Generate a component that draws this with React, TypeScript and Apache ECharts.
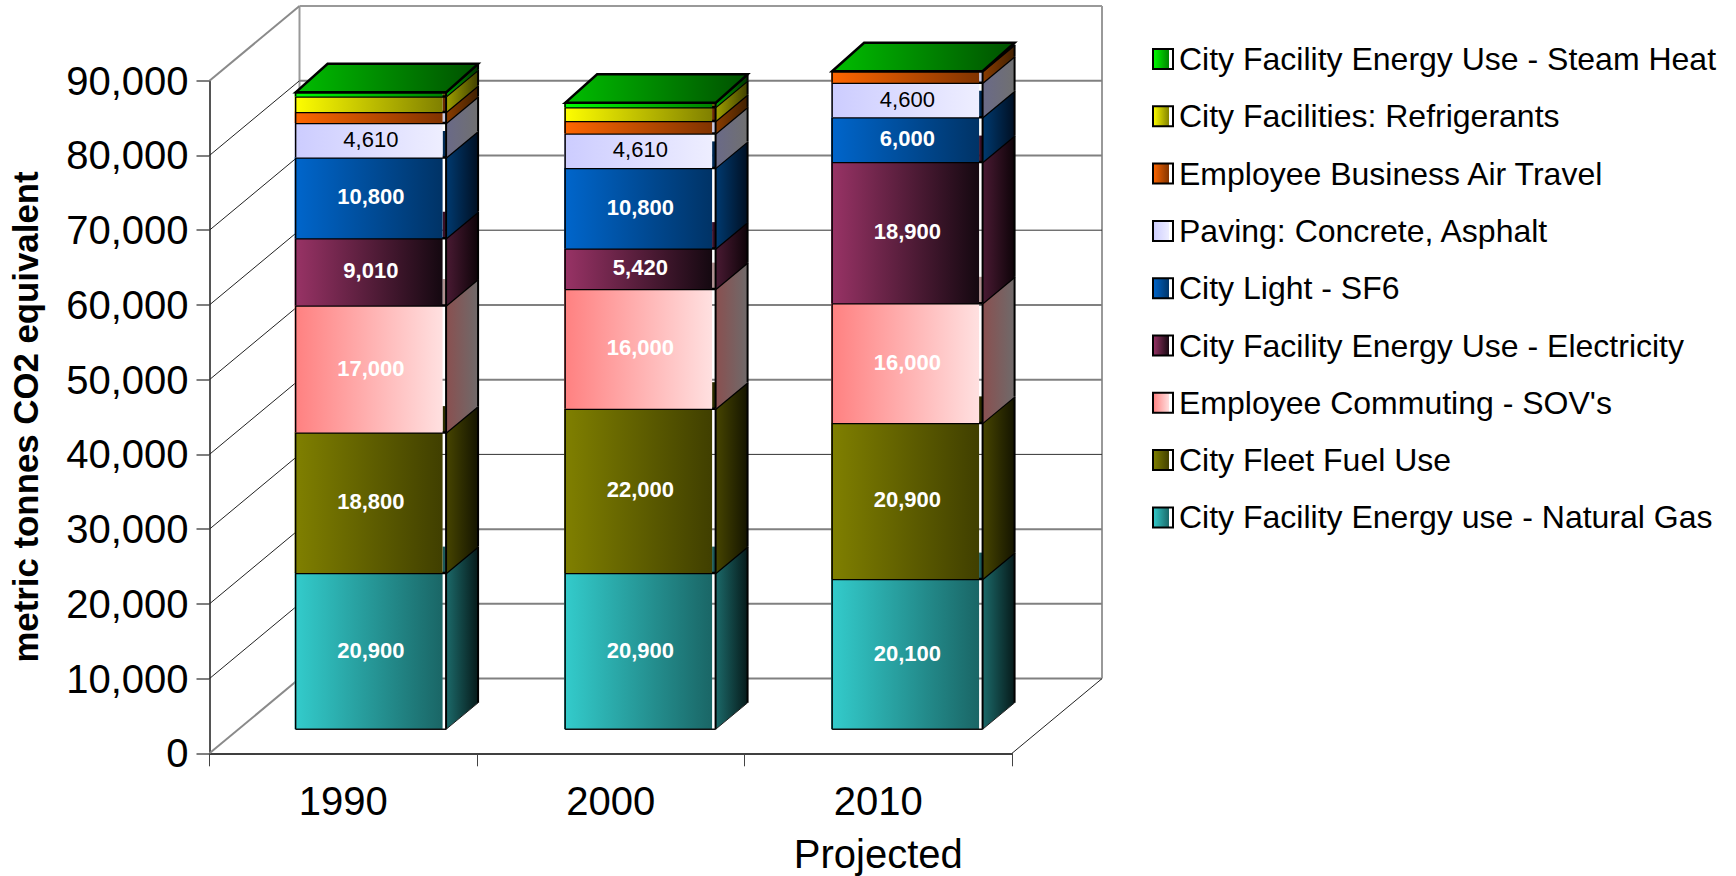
import React, { useEffect, useRef } from "react";
import * as echarts from "echarts";

const categories = ["1990", "2000", "2010\nProjected"];
const seriesNames = [
  "City Facility Energy use - Natural Gas",
  "City Fleet Fuel Use",
  "Employee Commuting - SOV's",
  "City Facility Energy Use - Electricity",
  "City Light - SF6",
  "Paving: Concrete, Asphalt",
  "Employee Business Air Travel",
  "City Facilities: Refrigerants",
  "City Facility Energy Use - Steam Heat",
];
const naturalGas = [20900, 20900, 20100];
const fleetFuel = [18800, 22000, 20900];
const commuting = [17000, 16000, 16000];
const electricity = [9010, 5420, 18900];
const lightSF6 = [10800, 10800, 6000];
const paving = [4610, 4610, 4600];
const airTravel = [1470, 1650, 1560];
const refrigerants = [2100, 1870, 0];
const steamHeat = [540, 580, 0];
const allValues = [naturalGas, fleetFuel, commuting, electricity, lightSF6, paving, airTravel, refrigerants, steamHeat];
const tickValues = [0, 10000, 20000, 30000, 40000, 50000, 60000, 70000, 80000, 90000];
const darkBackLines = [60000, 30000];

const frontStart = ["#33CCCC", "#808000", "#FF8080", "#993366", "#0066CC", "#CCCCFF", "#FF6600", "#FFFF00", "#00FF00"];
const frontEnd = ["#1A6666", "#403F00", "#FFE0E0", "#140810", "#003366", "#EEEEFF", "#803300", "#808000", "#008000"];
const sideStart = ["#1C6A6A", "#474500", "#8A5050", "#4A1A33", "#003A70", "#6A6A88", "#8A3C00", "#A0A000", "#00A000"];
const sideEnd = ["#061A1A", "#141400", "#6F6A6A", "#0D0308", "#000F22", "#707070", "#402000", "#404000", "#003300"];
const stripeTint = ["#1C5A5A", "#2E2E00", "#B09090", "#3A1028", "#002A55", "#C8C8E0", "#6A2A00", "#606000", "#007000"];
const labelDark = [false, false, false, false, false, true];

const FONT = '"Liberation Sans", Arial, sans-serif';
const DEPTH_X = 90;
const DEPTH_Y = 74.7;
const FRONT_DX = 27.6;
const FRONT_DY = 24;
const SIDE_DX = 32;
const SIDE_DY = 26.5;
const TOP_DY = 28.5;
const BAR_RATIO = 0.5625;
const BAR_NUDGE = [0, 2, 1.5];

const hGrad = (a: string, b: string) =>
  new echarts.graphic.LinearGradient(0, 0, 1, 0, [
    { offset: 0, color: a },
    { offset: 1, color: b },
  ]);

const stackUnder = (s: number, c: number) => {
  let sum = 0;
  for (let i = 0; i < s; i++) sum += allValues[i][c];
  return sum;
};
const stackTotal = (c: number) => stackUnder(allValues.length, c);

const line = (x1: number, y1: number, x2: number, y2: number, stroke: string, lineWidth: number) => ({
  type: "line",
  shape: { x1, y1, x2, y2 },
  style: { stroke, lineWidth, fill: null },
});

const renderWall = (params: any, api: any) => {
  const v = api.value(1);
  const cs = params.coordSys;
  const x0 = cs.x;
  const x1 = cs.x + cs.width;
  const y = api.coord([0, v])[1];
  const bx0 = x0 + DEPTH_X;
  const bx1 = x1 + DEPTH_X;
  const by = y - DEPTH_Y;
  const edge = v === 0 || v === tickValues[tickValues.length - 1];
  const backColor = darkBackLines.includes(v) ? "#333" : v === 90000 ? "#999" : "#808080";
  const children: any[] = [
    line(x0, y, bx0, by, edge ? "#8a8a8a" : "#222", edge ? 2 : 1),
    line(bx0, by, bx1, by, backColor, darkBackLines.includes(v) ? 1 : 2),
  ];
  if (v === 0) {
    const top = api.coord([0, 90000])[1] - DEPTH_Y;
    children.push(line(bx0, by, bx0, top, "#999", 2));
    children.push(line(bx1, by, bx1, top, "#999", 2));
    children.push(line(x1, y, bx1, by, "#222", 1));
  }
  return { type: "group", children };
};

const makeBarRender = (s: number) => (_params: any, api: any) => {
  const c = api.value(0);
  const value = api.value(1);
  const base = stackUnder(s, c);
  const band = api.size([1, 0])[0];
  const cx = api.coord([c, base])[0] + FRONT_DX + BAR_NUDGE[c];
  const half = (band * BAR_RATIO) / 2;
  const left = cx - half;
  const right = cx + half;
  const y0 = api.coord([c, base])[1] - FRONT_DY;
  const y1 = api.coord([c, base + value])[1] - FRONT_DY;
  const barTop = api.coord([c, stackTotal(c)])[1] - FRONT_DY;
  const isLast = s === allValues.length - 1;
  const sideTopDy = isLast ? TOP_DY : SIDE_DY;
  const children: any[] = [];
  if (value > 0) {
    children.push({
      type: "polygon",
      shape: { points: [[right, y0], [right + SIDE_DX, y0 - SIDE_DY], [right + SIDE_DX, y1 - sideTopDy], [right, y1]] },
      style: { fill: hGrad(sideStart[s], sideEnd[s]) },
    });
    children.push({
      type: "rect",
      shape: { x: left - 1, y: y1 - 0.5, width: right - left - 2.5, height: y0 - y1 + 0.5 },
      style: { fill: hGrad(frontStart[s], frontEnd[s]) },
    });
    const overlayTop = Math.max(y1 - SIDE_DY, barTop);
    if (overlayTop < y1) {
      children.push({
        type: "rect",
        shape: { x: right - 3.5, y: overlayTop, width: 3, height: y1 - overlayTop },
        style: { fill: stripeTint[s] },
      });
    }
    children.push(line(left, y0, left, y1, "#000", 1.5));
    children.push(line(right, y0, right, y1, "#000", 2));
    children.push(line(right + SIDE_DX, y0 - SIDE_DY, right + SIDE_DX, y1 - sideTopDy, "#000", 2));
    children.push(line(left, y1, right, y1, "#000", 2.5));
    children.push(line(right, y1, right + SIDE_DX, y1 - sideTopDy, "#000", 2.5));
    if (s === 0) {
      children.push(line(left, y0, right, y0, "#111", 1.5));
      children.push(line(right, y0, right + SIDE_DX, y0 - SIDE_DY, "#222", 1));
    }
    if (s < labelDark.length) {
      children.push({
        type: "text",
        x: (left + right) / 2,
        y: (y0 + y1) / 2 - 1,
        style: {
          text: value.toLocaleString("en-US"),
          fill: labelDark[s] ? "#000" : "#fff",
          fontFamily: FONT,
          fontSize: 22,
          fontWeight: labelDark[s] ? "normal" : "bold",
          align: "center",
          verticalAlign: "middle",
        },
      });
    }
  }
  if (isLast) {
    children.push({
      type: "polygon",
      shape: { points: [[left, barTop], [left + SIDE_DX, barTop - TOP_DY], [right + SIDE_DX, barTop - TOP_DY], [right, barTop]] },
      style: { fill: hGrad("#00BE00", "#005000"), stroke: "#000", lineWidth: 2.5 },
    });
  }
  return { type: "group", children };
};

export default function App() {
  const ref = useRef<HTMLDivElement>(null);
  useEffect(() => {
    const chart = echarts.init(ref.current!, null, { renderer: "svg" });
    chart.setOption({
      animation: false,
      backgroundColor: "#fff",
      grid: { left: 209.5, right: 724, top: 80.7, bottom: 122.7, containLabel: false, outerBoundsMode: "none" },
      xAxis: {
        type: "category",
        data: categories,
        axisLine: { lineStyle: { color: "#000", width: 1.5 } },
        axisTick: { show: true, length: 13, lineStyle: { color: "#444", width: 1 } },
        axisLabel: { color: "#000", fontSize: 40, fontFamily: FONT, margin: 21, lineHeight: 53, interval: 0 },
        splitLine: { show: false },
      },
      yAxis: {
        type: "value",
        min: 0,
        max: 90000,
        interval: 10000,
        name: "metric tonnes CO2 equivalent",
        nameLocation: "middle",
        nameRotate: 90,
        nameGap: 167,
        nameTextStyle: { color: "#000", fontSize: 34.8, fontWeight: "bold", fontFamily: FONT },
        axisLine: { show: true, lineStyle: { color: "#555", width: 2 } },
        axisTick: { show: true, length: 13, lineStyle: { color: "#555", width: 1.5 } },
        axisLabel: { color: "#000", fontSize: 40, fontFamily: FONT, margin: 21 },
        splitLine: { show: false },
      },
      legend: {
        orient: "vertical",
        left: 1147,
        top: 37,
        itemWidth: 20,
        itemHeight: 20,
        itemGap: 23.3,
        selectedMode: false,
        textStyle: { color: "#000", fontSize: 32, fontFamily: FONT, lineHeight: 34, padding: [0, 0, 0, 1] },
        data: seriesNames
          .map((name, s) => ({
            name,
            icon: "rect",
            itemStyle: {
              color: new echarts.graphic.LinearGradient(0, 0, 1, 0, [
                { offset: 0, color: frontStart[s] },
                { offset: 0.82, color: frontEnd[s] },
                { offset: 0.82, color: "#fff" },
                { offset: 1, color: "#fff" },
              ]),
              borderColor: "#000",
              borderWidth: 2,
            },
          }))
          .reverse(),
      },
      series: [
        {
          type: "custom",
          name: "walls",
          silent: true,
          renderItem: renderWall,
          encode: { x: 0, y: 1 },
          data: tickValues.map((v) => [0, v]),
        },
        ...seriesNames.map((name, s) => ({
          type: "custom",
          name,
          silent: true,
          renderItem: makeBarRender(s),
          encode: { x: 0, y: 1 },
          itemStyle: { color: frontStart[s] },
          data: allValues[s].map((v, c) => [c, v]),
        })),
      ],
    });
    return () => chart.dispose();
  }, []);
  return <div ref={ref} style={{ position: "fixed", left: 0, top: 0, width: 1736, height: 876 }} />;
}
